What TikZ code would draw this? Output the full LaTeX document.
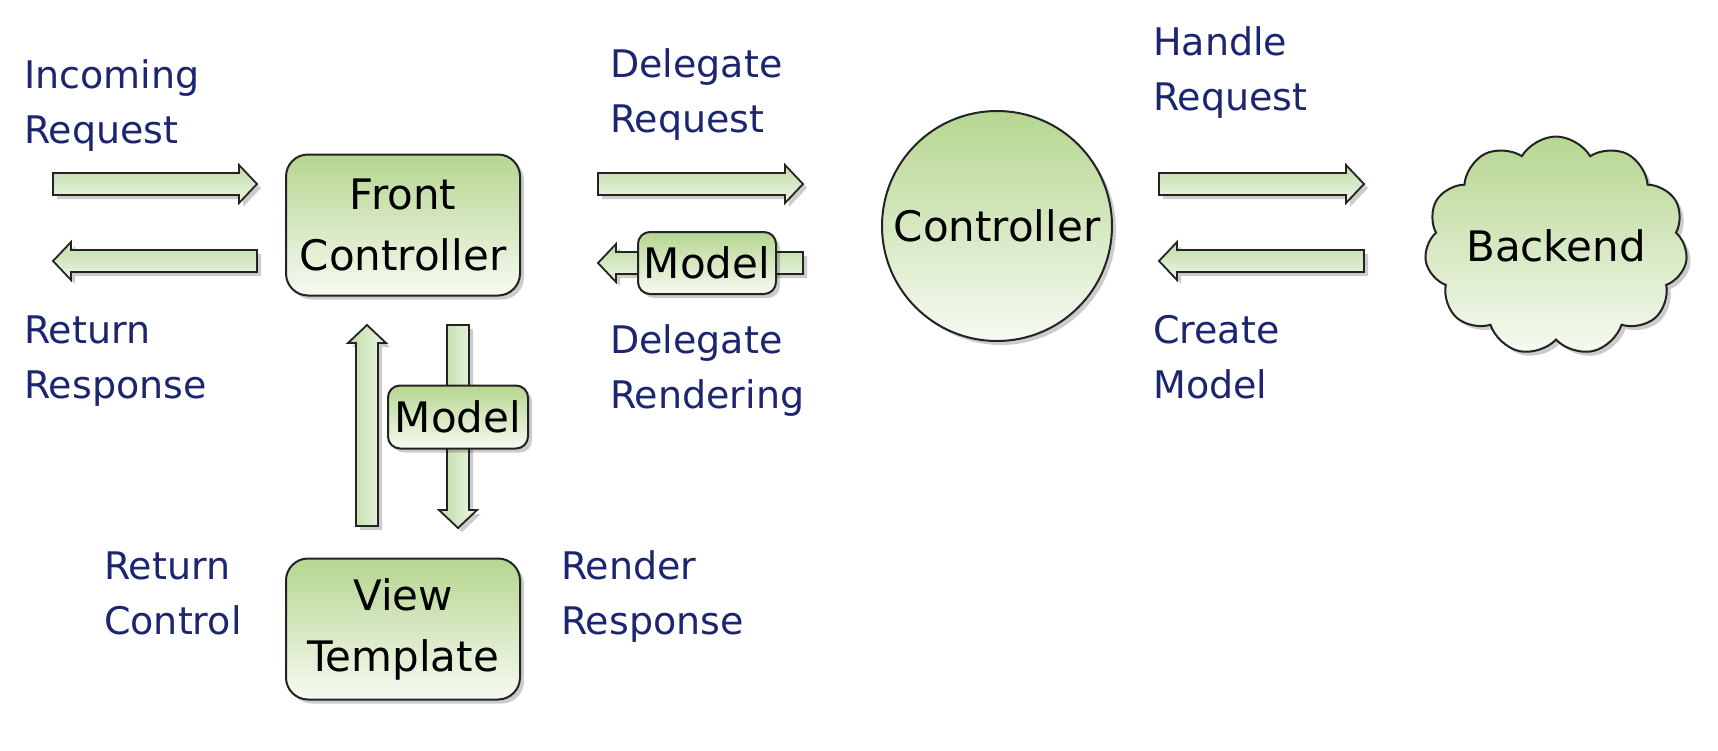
\documentclass[tikz,border=0pt]{standalone}
\usepackage{fontspec}
\setmainfont{DejaVu Sans}
\usetikzlibrary{shapes.symbols,shadows,calc}
\definecolor{lbl}{RGB}{28,38,112}
\definecolor{gtop}{RGB}{182,214,144}
\definecolor{gbot}{RGB}{246,250,242}
\definecolor{atop}{RGB}{190,219,164}
\definecolor{abot}{RGB}{238,247,232}
\definecolor{edge}{RGB}{35,35,35}
\tikzset{
  lab/.style={anchor=base west, inner sep=0pt, align=left, text=lbl, font=\fontsize{38}{55}\selectfont},
  nodetext/.style={font=\fontsize{42}{61}\selectfont, align=center, text=black},
  softshadow/.style={drop shadow={shadow xshift=4pt, shadow yshift=-4pt, opacity=0.2, fill=black}},
  greenfill/.style={draw=edge, line width=2pt, top color=gtop, bottom color=gbot, softshadow},
  boxnode/.style={greenfill, nodetext, rounded corners=22pt, minimum width=234pt, minimum height=141pt, inner sep=0pt},
  modelnode/.style={greenfill, nodetext, rounded corners=12pt, minimum width=138pt, minimum height=62pt, inner sep=0pt},
  harrow/.style={draw=edge, line width=1.8pt, top color=atop, bottom color=abot, softshadow},
  varrow/.style={draw=edge, line width=1.8pt, left color=atop, right color=abot, softshadow},
}
\newcommand\blockarrow[3]{%
  \coordinate (#2-h) at ($(#3)!18pt!(#2)$);
  \path[#1] ($(#2)!11pt!90:(#3)$) -- ($(#2-h)!11pt!90:(#3)$) -- ($(#2-h)!19pt!90:(#3)$)
    -- (#3) -- ($(#2-h)!19pt!-90:(#3)$) -- ($(#2-h)!11pt!-90:(#3)$) -- ($(#2)!11pt!-90:(#3)$) -- cycle;
}
\begin{document}
\begin{tikzpicture}[x=1pt,y=-1pt]
\useasboundingbox[fill=white] (0,0) rectangle (1718,750);

% arrow end points
\coordinate (inA) at (53,184);   \coordinate (inB) at (257,184);
\coordinate (rtA) at (257,261);  \coordinate (rtB) at (53,261);
\coordinate (dlA) at (598,184);  \coordinate (dlB) at (803,184);
\coordinate (drA) at (803,263);  \coordinate (drB) at (598,263);
\coordinate (hdA) at (1159,184); \coordinate (hdB) at (1364,184);
\coordinate (cmA) at (1364,261); \coordinate (cmB) at (1159,261);
\coordinate (upA) at (367,526);  \coordinate (upB) at (367,325);
\coordinate (dnA) at (458,325);  \coordinate (dnB) at (458,528);

% main nodes
\node[boxnode] (fc) at (403,225) {Front\\Controller};
\node[boxnode] (vt) at (403,629) {View\\Template};
\node[greenfill, nodetext, circle, minimum size=230pt, inner sep=0pt] (ctrl) at (997,226) {Controller};
\node[greenfill, nodetext, cloud, cloud puffs=11, cloud puff arc=120, cloud ignores aspect,
      minimum width=263pt, minimum height=219pt, inner sep=0pt] (be) at (1556,246) {Backend};

% block arrows
\blockarrow{harrow}{inA}{inB}
\blockarrow{harrow}{rtA}{rtB}
\blockarrow{harrow}{dlA}{dlB}
\blockarrow{harrow}{drA}{drB}
\blockarrow{harrow}{hdA}{hdB}
\blockarrow{harrow}{cmA}{cmB}
\blockarrow{varrow}{upA}{upB}
\blockarrow{varrow}{dnA}{dnB}

% model boxes on arrows
\node[modelnode] (m1) at (707,263) {Model};
\node[modelnode, minimum width=140pt, minimum height=63pt] (m2) at (458,417) {Model};

% labels (anchor at baseline of last line)
\node[lab] (l1) at (24,143) {Incoming\\Request};
\node[lab] (l2) at (24,398) {Return\\Response};
\node[lab] (l3) at (610,132) {Delegate\\Request};
\node[lab] (l4) at (610,408) {Delegate\\Rendering};
\node[lab] (l5) at (1153,110) {Handle\\Request};
\node[lab] (l6) at (1153,398) {Create\\Model};
\node[lab] (l7) at (104,634) {Return\\Control};
\node[lab] (l8) at (561,634) {Render\\Response};
\end{tikzpicture}
\end{document}
